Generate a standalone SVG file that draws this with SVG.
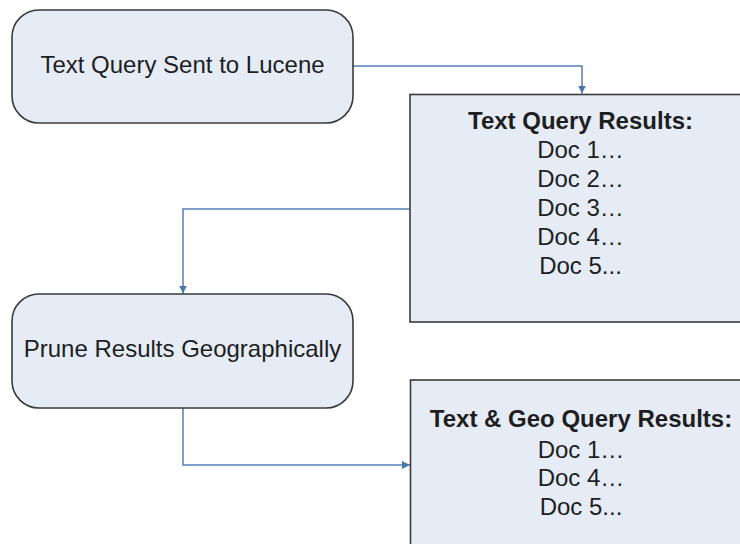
<svg xmlns="http://www.w3.org/2000/svg" width="740" height="544" viewBox="0 0 740 544">
<style>
.node{fill:#e5ecf6;stroke:#3a3a3a;stroke-width:1.6}
.t{font-family:"Liberation Sans",Arial,sans-serif;font-size:24px;fill:#1e1e1e;text-anchor:middle}
.b{font-weight:bold}
.conn{fill:none;stroke:#5580b8;stroke-width:1.5}
</style>
<defs>
<marker id="arr" viewBox="0 0 10 10" refX="10" refY="5" markerWidth="8" markerHeight="8" markerUnits="userSpaceOnUse" orient="auto">
<path d="M0,0 L10,5 L0,10 z" fill="#4a76b0"/>
</marker>
</defs>
<rect width="740" height="544" fill="#ffffff"/>
<g id="connectors">
<path class="conn" d="M353,66 H582 V93.5" marker-end="url(#arr)"/>
<path class="conn" d="M410,209 H183 V293.5" marker-end="url(#arr)"/>
<path class="conn" d="M183,408 V465 H410" marker-end="url(#arr)"/>
</g>
<g id="node-text-query">
<rect class="node" x="12" y="10" width="341" height="113" rx="27" ry="27"/>
<text class="t" x="182.5" y="72.5">Text Query Sent to Lucene</text>
</g>
<g id="node-text-results">
<rect class="node" x="410" y="94.5" width="342" height="227.5"/>
<text class="t b" x="580.5" y="128.5">Text Query Results:</text>
<text class="t" x="580.5" y="157.5">Doc 1…</text>
<text class="t" x="580.5" y="186.5">Doc 2…</text>
<text class="t" x="580.5" y="215.5">Doc 3…</text>
<text class="t" x="580.5" y="244.5">Doc 4…</text>
<text class="t" x="580.5" y="273.5">Doc 5...</text>
</g>
<g id="node-prune">
<rect class="node" x="12" y="294" width="341" height="114" rx="27" ry="27"/>
<text class="t" x="182.5" y="357">Prune Results Geographically</text>
</g>
<g id="node-geo-results">
<rect class="node" x="410.5" y="380" width="342" height="228"/>
<text class="t b" x="581" y="427">Text &amp; Geo Query Results:</text>
<text class="t" x="581" y="457.5">Doc 1…</text>
<text class="t" x="581" y="486">Doc 4…</text>
<text class="t" x="581" y="514.5">Doc 5...</text>
</g>
</svg>
